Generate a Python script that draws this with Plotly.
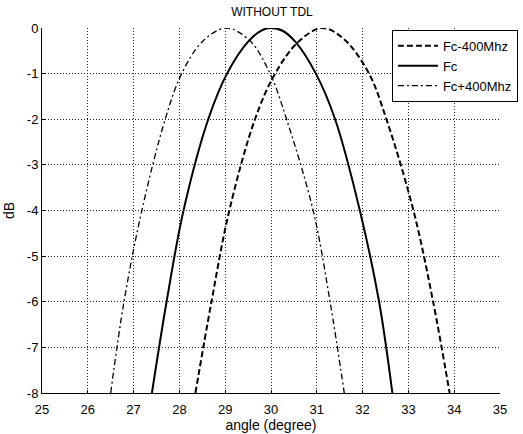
import plotly.graph_objects as go

# Fc-400Mhz (dashed)
x_minus = [28.35, 28.70, 29.09, 29.65, 30.09, 30.6, 31.12, 31.6, 32.14, 32.52, 33.11, 33.54, 33.9]
y_minus = [-8.0, -6.0, -4.0, -2.0, -1.0, -0.3, 0.0, -0.25, -1.0, -2.0, -4.0, -6.0, -8.0]

# Fc (solid)
x_fc = [27.4, 27.72, 28.09, 28.63, 29.04, 29.5, 29.8, 30.0, 30.25, 30.53, 30.98, 31.40, 31.94, 32.36, 32.65]
y_fc = [-8.0, -6.0, -4.0, -2.0, -1.0, -0.3, -0.05, 0.0, -0.06, -0.3, -1.0, -2.0, -4.0, -6.0, -8.0]

# Fc+400Mhz (dash-dot)
x_plus = [26.5, 26.79, 27.18, 27.69, 28.05, 28.5, 29.02, 29.54, 29.98, 30.34, 30.92, 31.29, 31.6]
y_plus = [-8.0, -6.0, -4.0, -2.0, -1.0, -0.3, 0.0, -0.28, -1.0, -2.0, -4.0, -6.0, -8.0]

x_ticks = [25, 26, 27, 28, 29, 30, 31, 32, 33, 34, 35]
y_ticks = [0, -1, -2, -3, -4, -5, -6, -7, -8]
y_ticktext = ["0", "-1", "-2", "-3", "-4", "-5", "-6", "-7", "-8"]

fig = go.Figure()
fig.add_trace(go.Scatter(x=x_minus, y=y_minus, mode="lines", name="Fc-400Mhz",
                         line=dict(color="black", width=2, dash="6px,3px", shape="spline", smoothing=1.0)))
fig.add_trace(go.Scatter(x=x_fc, y=y_fc, mode="lines", name="Fc",
                         line=dict(color="black", width=2, shape="spline", smoothing=1.0)))
fig.add_trace(go.Scatter(x=x_plus, y=y_plus, mode="lines", name="Fc+400Mhz",
                         line=dict(color="black", width=1.3, dash="6px,3px,2px,3px", shape="spline", smoothing=1.0)))

fig.update_layout(
    width=523, height=434,
    margin=dict(l=42, r=23, t=28, b=41, autoexpand=False),
    paper_bgcolor="white", plot_bgcolor="white",
    font=dict(family="Liberation Sans, Arial, sans-serif", size=12, color="black"),
    title=dict(text="WITHOUT TDL", x=0.52, xanchor="center", y=0.972, yanchor="middle",
               font=dict(size=12)),
    showlegend=True,
    legend=dict(x=0.764, y=0.995, xanchor="left", yanchor="top",
                bgcolor="white", bordercolor="black", borderwidth=1,
                font=dict(size=13), itemwidth=40, tracegroupgap=0),
    xaxis=dict(range=[25, 35], tickvals=x_ticks, showgrid=True,
               gridcolor="#222", griddash="1px,2px", gridwidth=1,
               showline=True, linecolor="black", linewidth=1, mirror=False,
               ticks="inside", ticklen=3, tickcolor="black", ticklabelstandoff=4,
               tickfont=dict(size=13),
               title=dict(text="angle (degree)", standoff=4), zeroline=False),
    yaxis=dict(range=[-8, 0], tickvals=y_ticks, ticktext=y_ticktext, showgrid=True,
               gridcolor="#222", griddash="1px,2px", gridwidth=1,
               showline=True, linecolor="black", linewidth=1, mirror=False,
               ticks="inside", ticklen=3, tickcolor="black",
               tickfont=dict(size=13),
               title=dict(text="dB", standoff=8), zeroline=False),
)

fig.write_html("out.html")
